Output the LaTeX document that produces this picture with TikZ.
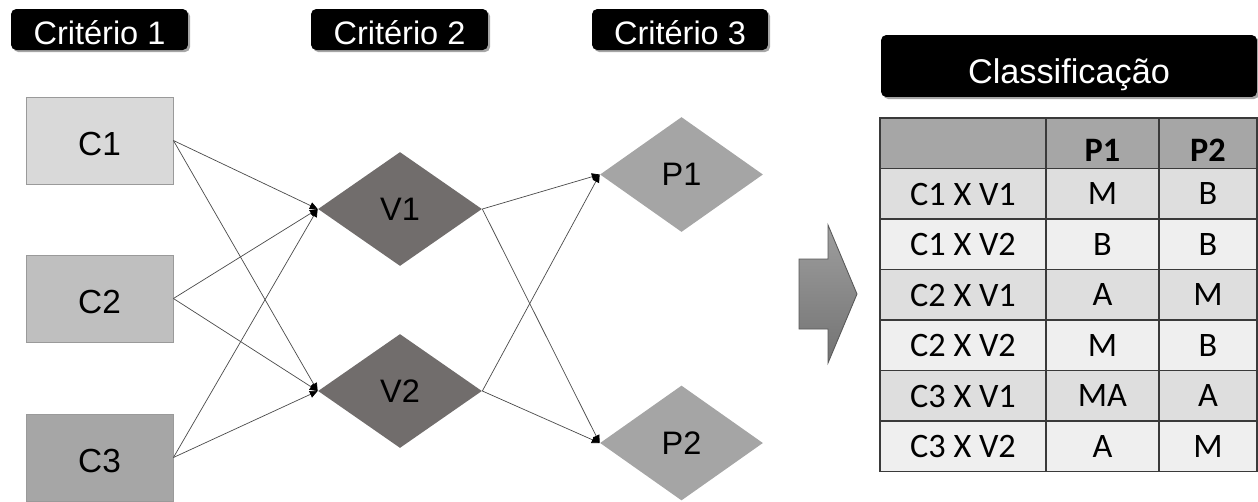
\documentclass[tikz,border=0pt]{standalone}
\usepackage{fontspec}
\setmainfont{Liberation Sans}
\newfontfamily\tablefont{Carlito}
\usetikzlibrary{shapes.geometric,arrows.meta,shadows}

\definecolor{cA}{HTML}{D9D9D9}
\definecolor{cB}{HTML}{BFBFBF}
\definecolor{cC}{HTML}{A6A6A6}
\definecolor{vfill}{HTML}{716D6C}
\definecolor{pfill}{HTML}{A5A5A5}
\definecolor{boxline}{HTML}{9A9A9A}
\definecolor{linegray}{HTML}{4A4A4A}
\definecolor{rowdark}{HTML}{DEDEDE}
\definecolor{rowlight}{HTML}{EFEFEF}
\definecolor{headfill}{HTML}{A6A6A6}
\definecolor{gridline}{HTML}{3A3A3A}

\begin{document}
\begin{tikzpicture}[x=0.02cm,y=-0.02cm,
  tag/.style={fill=black, text=white, rounded corners=3pt, inner sep=0pt,
    font=\fontsize{18.5}{20}\selectfont, text height=17.6pt, text depth=1pt,
    drop shadow={shadow xshift=1.2pt, shadow yshift=-1.2pt, opacity=0.35, fill=black}},
  critbox/.style={rectangle, draw=boxline, line width=0.5pt, inner sep=0pt,
    minimum width=2.94cm, minimum height=1.74cm, font=\fontsize{19}{20}\selectfont,
    text height=18pt, text depth=1pt},
  dia/.style={diamond, inner sep=0pt, minimum width=3.28cm, minimum height=2.28cm,
    font=\fontsize{18.5}{20}\selectfont},
  conn/.style={draw=linegray, line width=0.4pt,
    -{Triangle[length=4.5pt,width=4pt,color=black]}},
  cell/.style={inner sep=0pt, font=\tablefont\fontsize{19.5}{20}\selectfont},
]
\useasboundingbox (0,0) rectangle (1258,501);

% column headings
\node[tag, minimum width=3.54cm, minimum height=0.82cm] (h1) at (99.5,29.5) {Critério 1};
\node[tag, minimum width=3.54cm, minimum height=0.82cm] (h2) at (399.5,29.5) {Critério 2};
\node[tag, minimum width=3.52cm, minimum height=0.82cm] (h3) at (680,29.5) {Critério 3};
\node[tag, minimum width=7.52cm, minimum height=1.24cm, font=\fontsize{19.5}{20}\selectfont,
      text height=20.6pt, text depth=1pt] (h4) at (1069,66) {Classificação};

% first criterion
\node[critbox, fill=cA] (C1) at (99.5,140.5) {C1};
\node[critbox, fill=cB] (C2) at (99.5,298.5) {C2};
\node[critbox, fill=cC] (C3) at (99.5,457.5) {C3};

% second criterion
\node[dia, fill=vfill] (V1) at (400,209) {V1};
\node[dia, fill=vfill] (V2) at (400,391) {V2};

% third criterion
\node[dia, fill=pfill, minimum width=3.26cm, minimum height=2.3cm] (P1) at (681.5,174.5) {P1};
\node[dia, fill=pfill, minimum width=3.26cm, minimum height=2.3cm] (P2) at (681.5,443) {P2};

% connectors
\foreach \s in {C1,C2,C3}{
  \draw[conn] (\s.east) -- (V1.west);
  \draw[conn] (\s.east) -- (V2.west);
}
\foreach \s in {V1,V2}{
  \draw[conn] (\s.east) -- (P1.west);
  \draw[conn] (\s.east) -- (P2.west);
}

% block arrow
\draw[draw=black!65, line width=0.5pt, top color=black!38, bottom color=black!55]
  (799,259) -- (828,259) -- (828,225) -- (857,294) -- (828,363) -- (828,329) -- (799,329) -- cycle;

% table
\fill[headfill] (880,118) rectangle (1257,168.5);
\foreach \i in {1,...,6}{
  \pgfmathsetmacro{\ytop}{118+50.5*\i}
  \pgfmathsetmacro{\ybot}{\ytop+50.5}
  \pgfmathtruncatemacro{\odd}{mod(\i,2)}
  \ifnum\odd=1
    \fill[rowdark] (880,\ytop) rectangle (1257,\ybot);
  \else
    \fill[rowlight] (880,\ytop) rectangle (1257,\ybot);
  \fi
}
\foreach \i in {1,...,6}{
  \pgfmathsetmacro{\yy}{118+50.5*\i}
  \draw[gridline, line width=0.6pt] (880,\yy) -- (1257,\yy);
}
\draw[gridline, line width=0.6pt] (1046,118) -- (1046,471.5);
\draw[gridline, line width=0.6pt] (1159,118) -- (1159,471.5);
\draw[gridline, line width=0.6pt] (880,118) rectangle (1257,471.5);

\node[cell] (t0b) at (1102.5,150) {\bfseries P1};
\node[cell] (t0c) at (1208,150) {\bfseries P2};
\foreach \a/\b/\c [count=\i] in {C1 X V1/M/B, C1 X V2/B/B, C2 X V1/A/M,
                                  C2 X V2/M/B, C3 X V1/MA/A, C3 X V2/A/M}{
  \pgfmathsetmacro{\yc}{118+50.5*\i+25.5}
  \node[cell] (t\i a) at (963,\yc) {\a};
  \node[cell] (t\i b) at (1102.5,\yc) {\b};
  \node[cell] (t\i c) at (1208,\yc) {\c};
}
\end{tikzpicture}
\end{document}
